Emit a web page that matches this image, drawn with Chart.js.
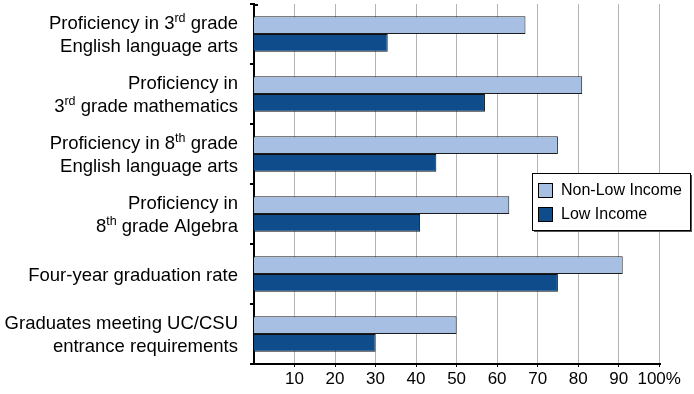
<!DOCTYPE html>
<html>
<head>
<meta charset="utf-8">
<script src="https://cdn.jsdelivr.net/npm/chart.js@4/dist/chart.umd.min.js"></script>
<style>
  html, body { margin: 0; padding: 0; background: #fff; }
  #wrap { width: 694px; height: 394px; }
</style>
</head>
<body>
<div id="wrap"><canvas id="chart" width="694" height="394"></canvas></div>
<script>
// category labels, ^{..} marks a superscript
const categories = [
    ['Proficiency in 3^{rd} grade', 'English language arts'],
    ['Proficiency in', '3^{rd} grade mathematics'],
    ['Proficiency in 8^{th} grade', 'English language arts'],
    ['Proficiency in', '8^{th} grade Algebra'],
    ['Four-year graduation rate'],
    ['Graduates meeting UC/CSU', 'entrance requirements']
];
const nonLowIncome = [67, 81, 75, 63, 91, 50];
const lowIncome = [33, 57, 45, 41, 75, 30];
const seriesNames = ['Non-Low Income', 'Low Income'];
const xTicks = [10, 20, 30, 40, 50, 60, 70, 80, 90, 100];

const FONT = '"Liberation Sans", Arial, Helvetica, sans-serif';

function parseLine(line) {
    // split into normal / superscript parts
    const parts = [];
    const re = /\^\{([^}]*)\}/g;
    let last = 0, m;
    while ((m = re.exec(line)) !== null) {
        if (m.index > last) parts.push({ text: line.slice(last, m.index), sup: false });
        parts.push({ text: m[1], sup: true });
        last = re.lastIndex;
    }
    if (last < line.length) parts.push({ text: line.slice(last), sup: false });
    return parts;
}

const categoryLabels = {
    id: 'categoryLabels',
    afterDraw(chart) {
        const ctx = chart.ctx;
        const yScale = chart.scales.y;
        const right = 238;
        const lineH = 23.5;
        ctx.save();
        ctx.fillStyle = '#000';
        ctx.textBaseline = 'alphabetic';
        ctx.textAlign = 'left';
        categories.forEach(function(lines, i) {
            const yc = yScale.getPixelForValue(i);
            const first = yc - (lines.length - 1) * lineH / 2 + 6.5;
            lines.forEach(function(line, j) {
                const parts = parseLine(line);
                let w = 0;
                parts.forEach(function(p) {
                    ctx.font = (p.sup ? '12.5px ' : '18.5px ') + FONT;
                    p.w = ctx.measureText(p.text).width;
                    w += p.w;
                });
                let x = right - w;
                const base = first + j * lineH;
                parts.forEach(function(p) {
                    ctx.font = (p.sup ? '12.5px ' : '18.5px ') + FONT;
                    ctx.fillText(p.text, x, p.sup ? base - 7 : base);
                    x += p.w;
                });
            });
        });
        ctx.restore();
    }
};

const boxLegend = {
    id: 'boxLegend',
    afterDraw(chart) {
        const ctx = chart.ctx;
        const x = 532, y = 173, w = 158, h = 57;
        ctx.save();
        // shadow
        ctx.fillStyle = '#555';
        ctx.fillRect(x + 2, y + 2, w, h);
        ctx.fillStyle = '#fff';
        ctx.fillRect(x, y, w, h);
        ctx.strokeStyle = '#000';
        ctx.lineWidth = 1;
        ctx.strokeRect(x + 0.5, y + 0.5, w, h);
        ctx.font = '16px ' + FONT;
        ctx.textBaseline = 'middle';
        chart.data.datasets.forEach(function(ds, i) {
            const sy = y + 10 + i * 24;
            ctx.fillStyle = ds.backgroundColor;
            ctx.fillRect(x + 6.5, sy + 0.5, 14, 14);
            ctx.strokeStyle = '#000';
            ctx.strokeRect(x + 6.5, sy + 0.5, 14, 14);
            ctx.fillStyle = '#000';
            ctx.fillText(ds.label, x + 29, sy + 8);
        });
        ctx.restore();
    }
};

// small inward tick at the top of the category axis
const topTick = {
    id: 'topTick',
    afterDraw(chart) {
        const a = chart.chartArea;
        const ctx = chart.ctx;
        ctx.save();
        ctx.strokeStyle = '#000';
        ctx.lineWidth = 2;
        ctx.beginPath();
        ctx.moveTo(a.left - 1, a.top + 1);
        ctx.lineTo(a.left + 4, a.top + 1);
        ctx.stroke();
        ctx.restore();
    }
};

const ctx = document.getElementById('chart').getContext('2d');
new Chart(ctx, {
    type: 'bar',
    data: {
        labels: categories.map(l => l.join(' ').replace(/\^\{([^}]*)\}/g, '$1')),
        datasets: [
            {
                label: seriesNames[0],
                data: nonLowIncome,
                backgroundColor: '#a6bfe3',
                borderColor: '#1a1a1a',
                borderWidth: 1,
                borderSkipped: 'start'
            },
            {
                label: seriesNames[1],
                data: lowIncome,
                backgroundColor: '#0f4c8b',
                borderColor: '#111',
                borderWidth: 1,
                borderSkipped: 'start'
            }
        ]
    },
    options: {
        indexAxis: 'y',
        responsive: false,
        animation: false,
        layout: { padding: { top: 4, right: 34, left: 0, bottom: 0 } },
        plugins: {
            legend: { display: false },
            tooltip: { enabled: false }
        },
        datasets: {
            bar: { categoryPercentage: 0.59, barPercentage: 1 }
        },
        scales: {
            x: {
                min: 0,
                max: 100.2,
                afterBuildTicks(scale) {
                    scale.ticks = xTicks.map(v => ({ value: v }));
                },
                afterFit(scale) { scale.height = 30; },
                grid: {
                    color: '#b4b4b4',
                    lineWidth: 1,
                    tickColor: '#000',
                    tickLength: 3
                },
                border: { color: '#000', width: 2 },
                ticks: {
                    color: '#000',
                    font: { family: FONT, size: 17 },
                    padding: 2,
                    autoSkip: false,
                    maxRotation: 0,
                    callback: v => v === 100 ? '100%' : String(v)
                }
            },
            y: {
                afterFit(scale) { scale.width = 254; },
                grid: {
                    offset: true,
                    drawOnChartArea: false,
                    color: '#000',
                    lineWidth: 2,
                    tickLength: 4
                },
                border: { color: '#000', width: 2 },
                ticks: { display: false }
            }
        }
    },
    plugins: [categoryLabels, boxLegend, topTick]
});
</script>
</body>
</html>
